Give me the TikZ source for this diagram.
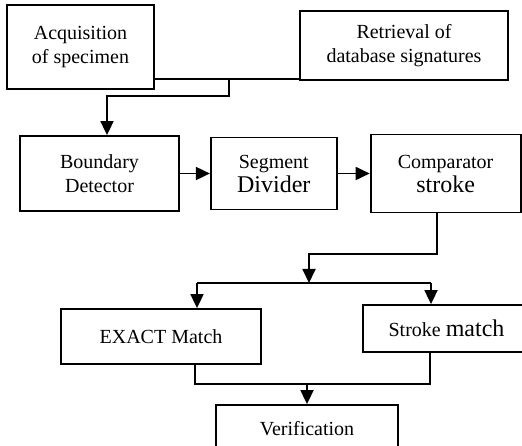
\documentclass[tikz,border=0pt]{standalone}
\usepackage{fontspec}
\setmainfont{Liberation Serif}
\usetikzlibrary{arrows.meta, positioning}
\newcommand{\bigtxt}{\fontsize{24}{26}\selectfont}

\begin{document}
\begin{tikzpicture}[
        x=1pt, y=-1pt,
        font=\fontsize{20}{24}\selectfont, node distance=30pt,
        box/.style={draw, line width=1.8pt, inner sep=0pt, align=center},
        arr/.style={-{Triangle[length=14pt, width=13pt]}, line width=1.8pt},
        wire/.style={line width=1.8pt}
    ]
        \path[use as bounding box] (0,0) rectangle (522,446);
        \clip (0,0) rectangle (522,446);

        \node[box, minimum width=147pt, minimum height=84pt] (acq)  at (80.5,47)   {Acquisition\\of specimen};
        \node[box, minimum width=208pt, minimum height=69pt] (retr) at (404,45.5)  {Retrieval of\\database signatures};

        \node[box, minimum width=159pt, minimum height=75pt] (bd)   at (99.5,173.5) {Boundary\\Detector};
        \node[box, minimum width=126pt, minimum height=72pt, right=30pt of bd]  (seg) {Segment\\{\bigtxt Divider}};
        \node[box, minimum width=150pt, minimum height=78pt, right=32pt of seg] (cmp) {Comparator\\{\bigtxt stroke}};

        \node[box, minimum width=200pt, minimum height=55pt] (ex)   at (161,336.5)  {EXACT Match};
        \node[box, minimum width=167pt, minimum height=47pt] (st)   at (446.5,328.5) {Stroke {\bigtxt match}};
        \node[box, minimum width=182pt, minimum height=48pt] (verif) at (307,429)   {Verification};

        % joints
        \coordinate (j1) at (229,79);
        \coordinate (j2) at (107,96);
        \coordinate (j3) at (309,254);
        \coordinate (split) at (309,283);
        \coordinate (sl) at (197,283);
        \coordinate (sr) at (431,283);
        \coordinate (ml) at (195,384);
        \coordinate (mr) at (430,384);

        % inputs
        \draw[wire] (acq.east |- j1) -- (retr.west |- j1);
        \draw[arr]  (j1) |- (j2) -- (bd.north -| j2);

        \draw[arr] (bd) -- (seg);
        \draw[arr] (seg) -- (cmp);

        % split to the two matchers
        \draw[arr]  ([xshift=-9pt]cmp.south) |- (j3) -- (split);
        \draw[wire] (sl) -- (sr);
        \draw[arr]  (sl) -- (sl |- ex.north);
        \draw[arr]  (sr) -- (sr |- st.north);

        % merge
        \draw[wire] (ml |- ex.south) -- (ml) -- (mr) -- (mr |- st.south);
        \draw[arr]  (verif.north |- ml) -- (verif.north);
    \end{tikzpicture}
\end{document}
